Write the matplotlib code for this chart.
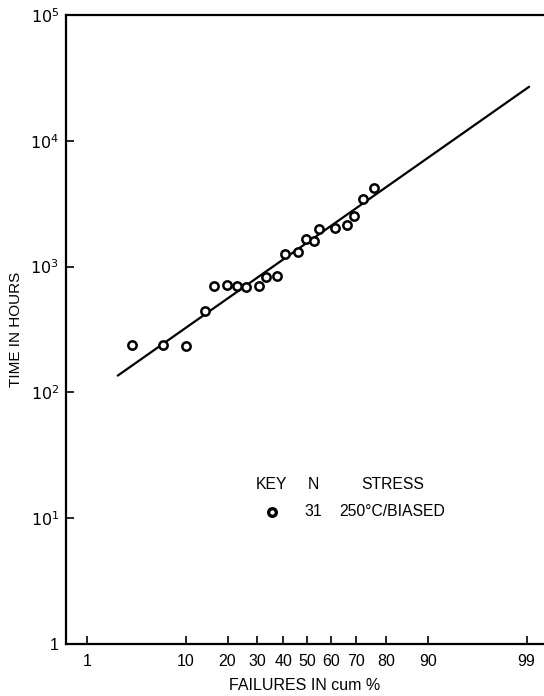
from statistics import NormalDist

import matplotlib
matplotlib.use("Agg")
import matplotlib.pyplot as plt
import numpy as np

plt.rcParams['font.family'] = ['Liberation Sans', 'DejaVu Sans']

# cumulative failure percentage and time to failure (hours)
fail_pct = [3.2, 6.4, 10.0, 14.0, 16.2, 19.9, 22.9, 25.9, 30.6, 33.2, 37.5,
            40.8, 46.2, 49.6, 53.0, 55.1, 61.7, 66.4, 69.1, 72.3, 76.1]
fail_hours = [236, 236, 232, 440, 696, 708, 696, 683, 696, 820, 836,
              1250, 1298, 1647, 1588, 1977, 2014, 2128, 2510, 3428, 4196]

# fitted lognormal line end points
fit_pct = [2.25, 99.07]
fit_hours = [136, 26900]

x_ticks = [1, 10, 20, 30, 40, 50, 60, 70, 80, 90, 99]
y_ticks = [1, 10, 100, 1000, 10000, 100000]
y_labels = ['1', '$10^1$', '$10^2$', '$10^3$', '$10^4$', '$10^5$']

nd = NormalDist()
_ppf = np.vectorize(nd.inv_cdf, otypes=[float])
_cdf = np.vectorize(nd.cdf, otypes=[float])


def fwd(p):
    p = np.clip(np.asarray(p, dtype=float) / 100.0, 1e-9, 1 - 1e-9)
    return _ppf(p)


def inv(z):
    return _cdf(np.asarray(z, dtype=float)) * 100.0


fig = plt.figure(figsize=(5.44, 6.96), dpi=100)
ax = fig.add_axes([66 / 544, 52 / 696, 1 - 66 / 544, 629 / 696])

ax.set_xscale('function', functions=(fwd, inv))
ax.set_yscale('log')
ax.set_xlim(0.534, 99.398)
ax.set_ylim(1, 1e5)

ax.plot(fit_pct, fit_hours, color='black', linewidth=1.6, solid_capstyle='round')
ax.plot(fail_pct, fail_hours, linestyle='none', marker='o', markersize=6,
        markerfacecolor='white', markeredgecolor='black', markeredgewidth=1.8)

ax.set_xticks(x_ticks)
ax.set_xticklabels([str(t) for t in x_ticks])
ax.xaxis.set_minor_locator(matplotlib.ticker.NullLocator())
ax.set_yticks(y_ticks)
ax.set_yticklabels(y_labels)
ax.yaxis.set_minor_locator(matplotlib.ticker.NullLocator())
ax.tick_params(direction='in', length=6, width=1.2, labelsize=11.5)
ax.tick_params(axis='x', pad=7)
ax.tick_params(axis='y', pad=5)

for side in ['left', 'bottom', 'top']:
    ax.spines[side].set_linewidth(1.6)
ax.spines['right'].set_visible(False)

ax.set_xlabel('FAILURES IN cum %', fontsize=11.5, labelpad=7)
ax.set_ylabel('TIME IN HOURS', fontsize=11, labelpad=5)

# key block
tr = ax.transAxes
fs = 11.3
ax.text(0.429, 0.253, 'KEY', transform=tr, fontsize=fs, ha='center', va='center')
ax.text(0.517, 0.253, 'N', transform=tr, fontsize=fs, ha='center', va='center')
ax.text(0.683, 0.253, 'STRESS', transform=tr, fontsize=fs, ha='center', va='center')
ax.plot([0.430], [0.210], transform=tr, marker='o', markersize=5.5,
        markerfacecolor='white', markeredgecolor='black', markeredgewidth=2.4,
        linestyle='none', clip_on=False)
ax.text(0.517, 0.210, '31', transform=tr, fontsize=fs, ha='center', va='center')
ax.text(0.571, 0.210, '250°C/BIASED', transform=tr, fontsize=fs, ha='left', va='center')

fig.savefig('out.png', dpi=100)
